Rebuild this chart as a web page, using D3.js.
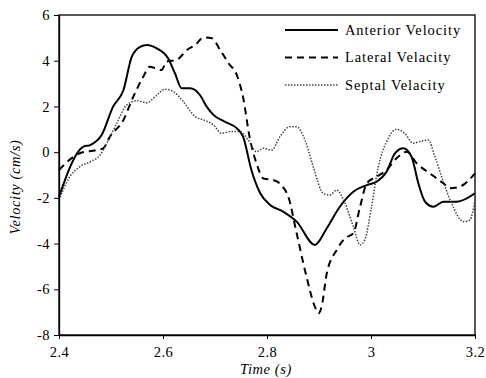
<html>
<head>
<meta charset="utf-8">
<script src="https://d3js.org/d3.v7.min.js"></script>
<style>
body { margin: 0; background: white; }
text { font-family: "Liberation Serif", "Times New Roman", serif; }
</style>
</head>
<body>
<svg id="chart" width="486" height="378"></svg>
<script>
// anterior (solid)
var antT = [2.4, 2.447, 2.46, 2.482, 2.504, 2.524, 2.54, 2.556, 2.569, 2.588, 2.61, 2.623, 2.636, 2.652, 2.671, 2.684, 2.697, 2.719, 2.742, 2.754, 2.77, 2.787, 2.806, 2.831, 2.857, 2.892, 2.915, 2.94, 2.966, 2.992, 3.011, 3.03, 3.046, 3.062, 3.078, 3.091, 3.104, 3.12, 3.139, 3.165, 3.2];
var antV = [-1.95, 0.24, 0.31, 0.75, 1.99, 2.72, 4.18, 4.61, 4.69, 4.54, 4.1, 3.45, 2.79, 2.79, 2.5, 1.99, 1.63, 1.33, 1.04, 0.68, -0.78, -1.8, -2.31, -2.6, -3.04, -4.06, -3.33, -2.39, -1.73, -1.44, -1.29, -0.86, -0.05, 0.17, -0.2, -1.36, -2.17, -2.39, -2.17, -2.17, -1.8];

// lateral (dashed)
var latT = [2.4, 2.428, 2.44, 2.472, 2.485, 2.498, 2.524, 2.543, 2.562, 2.575, 2.585, 2.597, 2.607, 2.626, 2.646, 2.662, 2.678, 2.694, 2.71, 2.726, 2.742, 2.754, 2.767, 2.78, 2.793, 2.812, 2.828, 2.841, 2.857, 2.876, 2.892, 2.899, 2.905, 2.915, 2.934, 2.95, 2.966, 2.979, 2.992, 3.011, 3.03, 3.049, 3.069, 3.088, 3.113, 3.139, 3.152, 3.171, 3.2];
var latV = [-0.78, -0.2, -0.05, 0.09, 0.17, 0.68, 1.41, 2.43, 3.3, 3.74, 3.67, 3.59, 3.96, 4.03, 4.47, 4.69, 5.02, 4.98, 4.47, 3.89, 3.37, 2.4, 0.6, -0.5, -1.15, -1.22, -1.45, -1.95, -3.55, -5.45, -6.76, -7.05, -6.76, -5.3, -4.28, -3.77, -3.55, -2.39, -1.36, -1.07, -0.78, -0.27, 0.02, -0.49, -0.93, -1.36, -1.58, -1.51, -0.93];

// septal (dotted)
var sepT = [2.4, 2.421, 2.44, 2.46, 2.479, 2.492, 2.511, 2.53, 2.55, 2.569, 2.585, 2.604, 2.62, 2.639, 2.662, 2.678, 2.697, 2.713, 2.729, 2.748, 2.764, 2.78, 2.793, 2.809, 2.825, 2.844, 2.857, 2.873, 2.889, 2.908, 2.921, 2.934, 2.95, 2.966, 2.979, 2.988, 3.001, 3.014, 3.03, 3.049, 3.065, 3.081, 3.094, 3.11, 3.123, 3.139, 3.155, 3.178, 3.19, 3.2];
var sepV = [-2.1, -1.07, -0.64, -0.42, -0.13, 0.39, 1.26, 2.06, 2.25, 2.16, 2.43, 2.75, 2.65, 2.21, 1.55, 1.41, 1.19, 0.82, 0.9, 0.9, 0.53, 0.02, 0.17, 0.09, 0.68, 1.11, 1.11, 0.53, -0.64, -1.8, -1.88, -1.66, -2.24, -3.26, -4.06, -3.84, -2.39, -0.64, 0.46, 1.0, 0.82, 0.39, 0.46, 0.53, -0.2, -1.29, -2.24, -3.04, -2.97, -2.1];

var xTicks = [2.4, 2.6, 2.8, 3.0, 3.2];
var yTicks = [-8, -6, -4, -2, 0, 2, 4, 6];
var seriesNames = ["Anterior Velocity", "Lateral Velacity", "Septal Velacity"];

var svg = d3.select("#chart");
var mLeft = 59, mRight = 475, mTop = 15, mBottom = 335;

var x = d3.scaleLinear().domain([2.4, 3.2]).range([mLeft, mRight]);
var y = d3.scaleLinear().domain([-8, 6]).range([mBottom, mTop]);

var styles = [
  { stroke: "#000", width: 2, dash: null },
  { stroke: "#000", width: 2, dash: "7,5" },
  { stroke: "#444", width: 1.5, dash: "1.5,1.5" }
];

var series = [
  d3.zip(antT, antV),
  d3.zip(latT, latV),
  d3.zip(sepT, sepV)
];

var line = d3.line()
  .x(function(d) { return x(d[0]); })
  .y(function(d) { return y(d[1]); })
  .curve(d3.curveMonotoneX);

// frame
svg.append("rect")
  .attr("x", mLeft).attr("y", mTop)
  .attr("width", mRight - mLeft).attr("height", mBottom - mTop)
  .attr("fill", "none").attr("stroke", "#000").attr("stroke-width", 1.3);

svg.append("g")
  .selectAll("path")
  .data(series)
  .enter()
  .append("path")
  .attr("d", line)
  .attr("fill", "none")
  .attr("stroke", function(d, i) { return styles[i].stroke; })
  .attr("stroke-width", function(d, i) { return styles[i].width; })
  .attr("stroke-dasharray", function(d, i) { return styles[i].dash; });

var fmt = function(d) { return String(d); };

var xAxis = svg.append("g")
  .attr("transform", "translate(0," + mBottom + ")")
  .call(d3.axisBottom(x).tickValues(xTicks).tickSize(4).tickSizeOuter(0).tickFormat(fmt));
var yAxis = svg.append("g")
  .attr("transform", "translate(" + mLeft + ",0)")
  .call(d3.axisLeft(y).tickValues(yTicks).tickSize(5).tickSizeOuter(0).tickFormat(fmt));

[xAxis, yAxis].forEach(function(a) {
  a.select(".domain").attr("stroke-width", 1.3);
  a.selectAll("text")
    .attr("font-family", "Liberation Serif")
    .attr("font-size", 14.5)
    .attr("letter-spacing", 0.5)
    .attr("fill", "#000");
});
xAxis.selectAll(".tick text").attr("dy", "1.05em");
yAxis.selectAll(".tick text").attr("x", -9);

svg.append("text")
  .attr("x", 266).attr("y", 374)
  .attr("text-anchor", "middle")
  .attr("font-style", "italic")
  .attr("font-size", 14.5)
  .attr("letter-spacing", 0.6)
  .text("Time (s)");

svg.append("text")
  .attr("transform", "translate(20,187) rotate(-90)")
  .attr("text-anchor", "middle")
  .attr("font-style", "italic")
  .attr("font-size", 14.5)
  .attr("letter-spacing", 0.6)
  .text("Velocity (cm/s)");

// legend
var legend = svg.append("g");
seriesNames.forEach(function(name, i) {
  var ly = 30 + i * 27.5;
  legend.append("line")
    .attr("x1", 285).attr("x2", 338)
    .attr("y1", ly).attr("y2", ly)
    .attr("stroke", styles[i].stroke)
    .attr("stroke-width", styles[i].width)
    .attr("stroke-dasharray", styles[i].dash);
  legend.append("text")
    .attr("x", 345).attr("y", ly + 4.5)
    .attr("font-size", 14.5)
    .attr("letter-spacing", 0.9)
    .text(name);
});
</script>
</body>
</html>
